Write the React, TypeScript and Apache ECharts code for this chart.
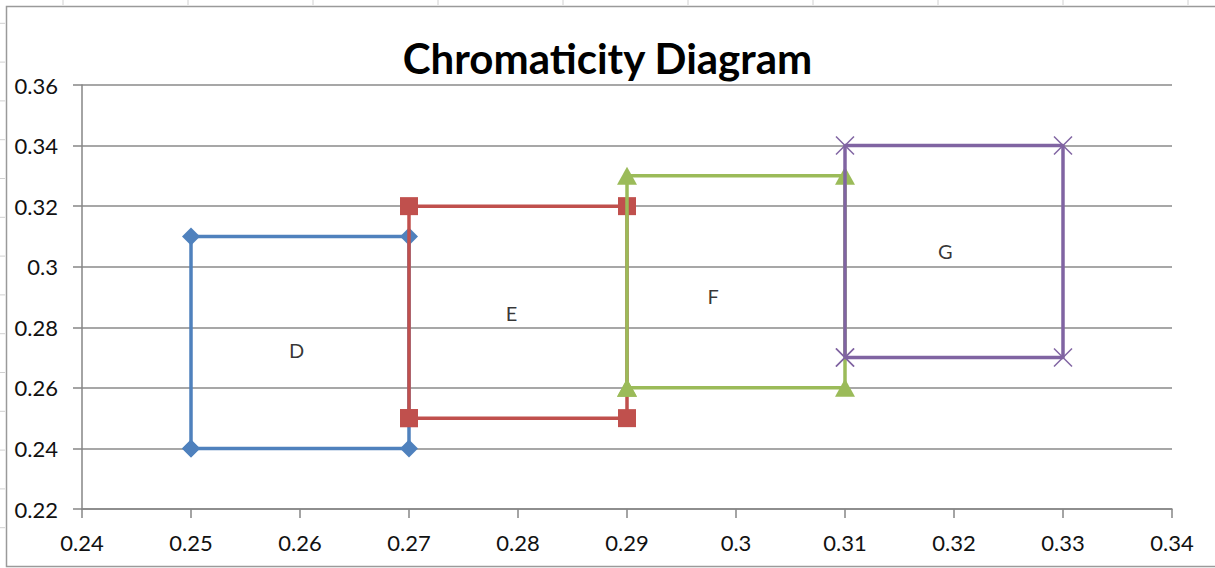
import React, { useEffect, useRef } from "react";
import * as echarts from "echarts";

const xTicks = [0.24, 0.25, 0.26, 0.27, 0.28, 0.29, 0.3, 0.31, 0.32, 0.33, 0.34];
const yTicks = [0.22, 0.24, 0.26, 0.28, 0.3, 0.32, 0.34, 0.36];

const seriesNames = ["D", "E", "F", "G"];
const seriesD: number[][] = [[0.25, 0.24], [0.25, 0.31], [0.27, 0.31], [0.27, 0.24], [0.25, 0.24]];
const seriesE: number[][] = [[0.27, 0.25], [0.27, 0.32], [0.29, 0.32], [0.29, 0.25], [0.27, 0.25]];
const seriesF: number[][] = [[0.29, 0.26], [0.29, 0.33], [0.31, 0.33], [0.31, 0.26], [0.29, 0.26]];
const seriesG: number[][] = [[0.31, 0.27], [0.31, 0.34], [0.33, 0.34], [0.33, 0.27], [0.31, 0.27]];

const labelNames = ["D", "E", "F", "G"];
const labelPos: number[][] = [[0.2597, 0.2725], [0.2794, 0.2847], [0.2979, 0.2903], [0.3192, 0.3052]];

const colors = ["#4F81BD", "#C0504D", "#9BBB59", "#8064A2"];
const symbols = ["diamond", "rect", "triangle", "path://M0,0L10,10M10,0L0,10"];
const symbolSizes: any[] = [18, 18, [20, 18], 18];

export default function App() {
  const ref = useRef<HTMLDivElement>(null);
  useEffect(() => {
    if (!ref.current) return;
    const chart = echarts.init(ref.current, undefined, { renderer: "svg" });
    const font = "Lato, 'Open Sans', sans-serif";
    const allData = [seriesD, seriesE, seriesF, seriesG];

    const graphics: any[] = [
      {
        type: "rect",
        shape: { x: 6.5, y: 6.5, width: 1230, height: 560 },
        style: { fill: "none", stroke: "#9a9a9a", lineWidth: 1.5 },
        silent: true,
      },
    ];
    for (let k = 0; k < 10; k++) {
      const x = 63 + 125 * k;
      graphics.push({
        type: "line",
        shape: { x1: x, y1: 0, x2: x, y2: 5 },
        style: { stroke: "#d0d0d0", lineWidth: 1 },
        silent: true,
      });
    }
    for (let k = 0; k < 14; k++) {
      const y = 23.3 + 38.8 * k;
      graphics.push({
        type: "line",
        shape: { x1: 0, y1: y, x2: 5, y2: y },
        style: { stroke: "#d0d0d0", lineWidth: 1 },
        silent: true,
      });
    }

    const series: any[] = allData.map((d, i) => ({
      name: seriesNames[i],
      type: "line",
      data: d,
      symbol: symbols[i],
      symbolSize: symbolSizes[i],
      showAllSymbol: true,
      lineStyle: { color: colors[i], width: 3.5 },
      itemStyle:
        i === 3
          ? { color: colors[i], borderColor: colors[i], borderWidth: 1.5 }
          : { color: colors[i] },
      z: 2 + i,
    }));
    series.push({
      type: "scatter",
      data: labelPos.map((p, i) => ({ value: p, name: labelNames[i] })),
      symbolSize: 1,
      itemStyle: { color: "rgba(0,0,0,0)" },
      label: {
        show: true,
        position: "inside",
        formatter: (p: any) => p.name,
        fontFamily: font,
        fontSize: 20,
        color: "#000",
      },
      z: 10,
    });

    chart.setOption({
      animation: false,
      backgroundColor: "#fff",
      title: {
        text: "Chromaticity Diagram",
        left: "center",
        top: 32,
        textStyle: { fontFamily: font, fontSize: 42, fontWeight: "bold", color: "#000" },
      },
      grid: { left: 82, right: 43, top: 85, bottom: 59 },
      xAxis: {
        type: "value",
        min: xTicks[0],
        max: xTicks[xTicks.length - 1],
        interval: 0.01,
        axisLine: { show: true, lineStyle: { color: "#868686", width: 1.5 } },
        axisTick: { show: true, length: 9, lineStyle: { color: "#868686", width: 1.5 } },
        splitLine: { show: false },
        axisLabel: {
          margin: 22,
          fontFamily: font,
          fontSize: 22,
          color: "#111",
          formatter: (v: number) => String(parseFloat(v.toFixed(2))),
        },
      },
      yAxis: {
        type: "value",
        min: yTicks[0],
        max: yTicks[yTicks.length - 1],
        interval: 0.02,
        axisLine: { show: true, lineStyle: { color: "#868686", width: 1.5 } },
        axisTick: { show: true, length: 9, lineStyle: { color: "#868686", width: 1.5 } },
        splitLine: { show: true, lineStyle: { color: "#8a8a8a", width: 1.5 } },
        axisLabel: {
          margin: 24,
          fontFamily: font,
          fontSize: 22,
          color: "#111",
          formatter: (v: number) => String(parseFloat(v.toFixed(2))),
        },
      },
      graphic: graphics,
      series,
    });
    return () => chart.dispose();
  }, []);
  return <div ref={ref} style={{ width: 1215, height: 568, position: "absolute", left: 0, top: 0 }} />;
}
